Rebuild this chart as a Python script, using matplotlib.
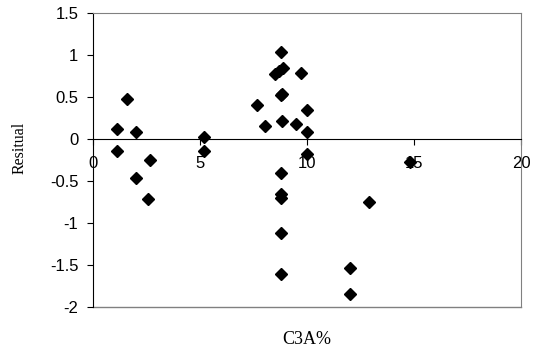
import matplotlib.pyplot as plt

# C3A% vs residual
c3a = [1.1, 1.1, 1.6, 2.0, 2.65, 2.0, 2.55, 5.2, 5.2, 7.65, 8.05,
       8.8, 8.5, 8.7, 8.9, 9.7, 8.8, 8.85, 10.0, 8.85, 9.5, 10.0, 10.0,
       14.8, 8.8, 8.8, 8.8, 12.9, 8.8, 12.0, 8.8, 12.0]
resid = [0.12, -0.14, 0.48, 0.08, -0.25, -0.46, -0.71, 0.02, -0.14, 0.41, 0.16,
         1.03, 0.77, 0.81, 0.85, 0.79, 0.52, 0.54, 0.35, 0.21, 0.18, 0.08, -0.18,
         -0.27, -0.41, -0.66, -0.70, -0.75, -1.12, -1.53, -1.61, -1.85]

xticks = [0, 5, 10, 15, 20]
yticks = [-2, -1.5, -1, -0.5, 0, 0.5, 1, 1.5]

fig = plt.figure(figsize=(5.33, 3.51), dpi=100)
ax = fig.add_axes([93 / 533, 1 - 307 / 351, (521 - 93) / 533, (307 - 13) / 351])

ax.plot(c3a, resid, 'D', color='black', markersize=6, linestyle='none', clip_on=False, zorder=3)

ax.set_xlim(0, 20)
ax.set_ylim(-2, 1.5)
ax.set_xticks(xticks)
ax.set_yticks(yticks)
ax.set_xticklabels([str(t) for t in xticks])
ax.set_yticklabels([('%g' % t) for t in yticks])

# x axis crosses at y = 0
ax.spines['bottom'].set_position(('data', 0))
ax.spines['bottom'].set_color('black')
ax.spines['left'].set_color('black')
ax.spines['top'].set_color('#808080')
ax.spines['right'].set_color('#808080')
ax.axhline(-2, color='#808080', linewidth=1.0, clip_on=False, zorder=1)

ax.tick_params(axis='x', direction='out', length=4.5, pad=8, labelsize=12)
ax.tick_params(axis='y', direction='out', length=4.5, pad=6, labelsize=12)
for lab in ax.get_xticklabels() + ax.get_yticklabels():
    lab.set_family('Liberation Sans')

fig.text(307 / 533, 1 - 339 / 351, 'C3A%', ha='center', va='center',
         family='Liberation Serif', fontsize=13)
fig.text(20 / 533, 1 - 148 / 351, 'Resitual', ha='center', va='center', rotation=90,
         family='Liberation Serif', fontsize=11.5)

fig.savefig('out.png', dpi=100)
